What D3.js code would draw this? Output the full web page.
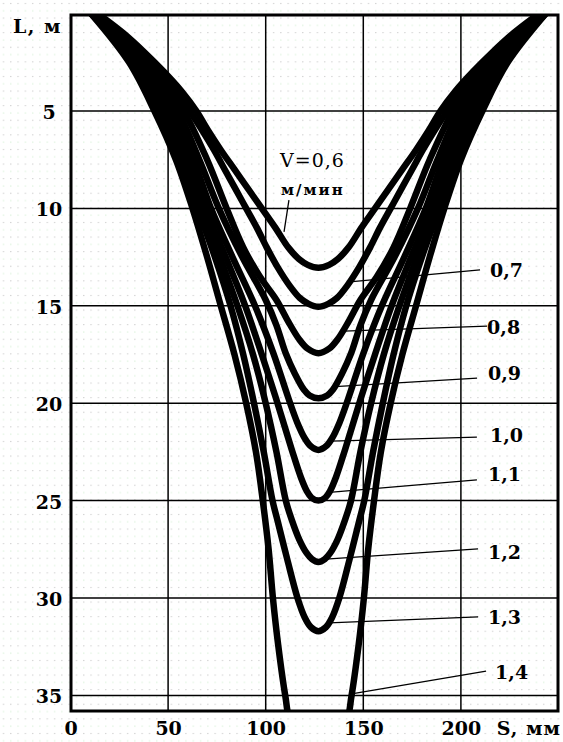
<!DOCTYPE html>
<html><head><meta charset="utf-8">
<script src="https://cdn.jsdelivr.net/npm/d3@7"></script>
<style>html,body{margin:0;padding:0;background:#fff;} svg{display:block;}</style>
</head><body><svg id="chart" width="563" height="742"></svg>
<script>
// ---- data (S in mm, L in m) ----
const xTickValues = [0, 50, 100, 150, 200];
const yTickValues = [5, 10, 15, 20, 25, 30, 35];
const centerS = 127;
// [L, half-width of the profile] pairs for each speed
const curve06 = [[0,113],[1,100],[2,89],[3,79],[4,70],[5,62.5],[6,56.5],[7,50],[8,43],[9,36],[10,29],[11,22],[12,15.5],[12.6,10],[12.9,5.5],[13.05,0]];
const curve07 = [[0,114],[1,101],[2,90],[3,81],[4,73],[5,66],[6,59.5],[7,53.5],[8,48],[9,42.5],[10,37],[11,31.5],[12,26.5],[13,21],[14,14.5],[14.6,9.5],[14.9,5],[15.05,0]];
const curve08 = [[0,114],[2.5,86],[5,69],[7.5,57],[10,47],[12,38.5],[13.5,30],[14.7,21.5],[15.8,15.5],[16.7,10],[17.2,5.5],[17.43,0]];
const curve09 = [[0,115],[2.5,88],[5,72],[7.5,61],[10,51],[12.5,39],[14.7,27],[16,21.5],[17.45,16.7],[18.5,12],[19.3,7.5],[19.6,4.5],[19.75,0]];
const curve10 = [[0,115],[2.5,90],[5,75],[7.5,64],[10,55],[12.5,44],[15,32.5],[17.45,23],[19.76,15.3],[21,10.8],[21.8,7],[22.2,4],[22.4,0]];
const curve11 = [[0,116],[2.5,92],[5,78],[7.5,67],[10,58],[12.5,47.5],[15,37.5],[17.5,29],[19.76,21.7],[22.4,13.6],[23.8,9],[24.5,6],[24.85,3.5],[25.0,0]];
const curve12 = [[0,116],[2.5,93],[5,80],[7.5,69],[10,60],[12.5,50.5],[15,41.5],[17.5,33.5],[20,27],[22.5,21.5],[25,16.7],[26,13.6],[27,9.8],[27.7,6],[28.0,3.3],[28.15,0]];
const curve13 = [[0,116.5],[2.5,95],[5,82],[7.5,71],[10,62],[12.5,53],[15,45],[17.5,38.5],[20,33],[22.5,28],[25,23.5],[26,21],[28,16],[30,10.7],[31,7],[31.5,3.8],[31.7,0]];
const curve14 = [[0,116.5],[2.5,97],[5,84],[7.5,73],[10,64.5],[12.5,57],[15,50],[17.5,43],[20,37],[22.5,32],[25,28.5],[27.5,25.5],[30,23.3],[32.5,20.5],[35,17],[36.5,14],[38.6,0]];
const curves = [curve06, curve07, curve08, curve09, curve10, curve11, curve12, curve13, curve14];

// label names and leader lines: [S start, L start, S end, L end]
const speedLabels = ["0,7","0,8","0,9","1,0","1,1","1,2","1,3","1,4"];
const leaderLines = [[141.6,13.78,209.8,13.16],[140,16.3,213.4,16.04],[135.5,19.15,208.3,18.71],[133.5,21.95,208.2,21.74],[132.6,24.58,208.2,23.94],[130.8,28.0,208.8,27.48],[132.5,31.28,208.8,30.97],[145.5,34.9,212.9,33.75]];
const labelPos = [[214.9,13.52],[213.4,16.45],[213.9,18.82],[214.9,21.99],[213.9,24.0],[213.9,27.99],[213.9,31.33],[217.5,34.16]];
const v06Leader = [111.9, 9.57, 109.4, 11.2];

// ---- drawing ----
const svg = d3.select("#chart");
const x = d3.scaleLinear().domain([0, 250]).range([70.5, 558.5]);
const y = d3.scaleLinear().domain([0, 35.8]).range([13.6, 711]);
const P = {left: 71, right: 558, top: 15, bottom: 711};
const FONT = "'DejaVu Serif', 'Liberation Serif', serif";
const FS = 19;

const defs = svg.append("defs");
const pat = defs.append("pattern").attr("id", "dots").attr("patternUnits", "userSpaceOnUse")
  .attr("width", 7.3).attr("height", 14.6);
pat.append("rect").attr("x", 3).attr("y", 3).attr("width", 1).attr("height", 1).attr("fill", "#b9b9b9");
pat.append("rect").attr("x", 3).attr("y", 10.3).attr("width", 1).attr("height", 1).attr("fill", "#c6e9c6");
defs.append("clipPath").attr("id", "plotClip").append("rect")
  .attr("x", P.left).attr("y", P.top).attr("width", P.right - P.left).attr("height", P.bottom - P.top);

svg.append("rect").attr("width", 563).attr("height", 742).attr("fill", "#fff");
svg.append("rect").attr("width", 563).attr("height", 742).attr("fill", "url(#dots)");

// grid
const grid = svg.append("g").attr("stroke", "#000").attr("stroke-width", 1.5);
grid.selectAll("line.v").data(xTickValues.filter(d => d > 0)).join("line").attr("class", "v")
  .attr("x1", d => x(d)).attr("x2", d => x(d)).attr("y1", P.top).attr("y2", P.bottom);
grid.selectAll("line.h").data(yTickValues).join("line").attr("class", "h")
  .attr("y1", d => y(d)).attr("y2", d => y(d)).attr("x1", P.left).attr("x2", P.right);

// curves
const line = d3.line().x(d => x(d[0])).y(d => y(d[1])).curve(d3.curveCatmullRom.alpha(0.5));
function profilePoints(prof) {
  const left = prof.filter(p => p[1] > 0).map(p => [centerS - p[1], p[0]]);
  const bottom = prof.filter(p => p[1] === 0).map(p => [centerS, p[0]]);
  const right = prof.filter(p => p[1] > 0).map(p => [centerS + p[1], p[0]]).reverse();
  return left.concat(bottom, right);
}
svg.append("g").attr("clip-path", "url(#plotClip)")
  .selectAll("path").data(curves).join("path")
  .attr("d", d => line(profilePoints(d)))
  .attr("fill", "none").attr("stroke", "#000").attr("stroke-width", 6.5)
  .attr("stroke-linejoin", "round").attr("stroke-linecap", "round");

// leaders
const lead = svg.append("g").attr("stroke", "#000").attr("stroke-width", 1.3);
lead.selectAll("line").data(leaderLines.concat([v06Leader])).join("line")
  .attr("x1", d => x(d[0])).attr("y1", d => y(d[1])).attr("x2", d => x(d[2])).attr("y2", d => y(d[3]));

// frame
svg.append("rect").attr("x", P.left).attr("y", P.top).attr("width", P.right - P.left).attr("height", P.bottom - P.top)
  .attr("fill", "none").attr("stroke", "#000").attr("stroke-width", 3);

// axes
const xAxis = svg.append("g").attr("transform", `translate(0,${P.bottom})`)
  .call(d3.axisBottom(x).tickValues(xTickValues).tickSize(0).tickFormat(d3.format("d")));
xAxis.select(".domain").remove();
xAxis.attr("font-family", FONT).attr("font-size", FS).attr("font-weight", "bold");
xAxis.selectAll("text").attr("y", 24).attr("dy", 0).attr("fill", "#000");

const yAxis = svg.append("g").attr("transform", "translate(49,0)")
  .call(d3.axisLeft(y).tickValues(yTickValues).tickSize(0).tickFormat(d3.format("d")));
yAxis.select(".domain").remove();
yAxis.attr("font-family", FONT).attr("font-size", FS).attr("font-weight", "bold").attr("text-anchor", "middle");
yAxis.selectAll("text").attr("x", 0).attr("y", 7.5).attr("dy", 0).attr("fill", "#000");

// texts
const txt = svg.append("g").attr("font-family", FONT).attr("font-size", FS).attr("font-weight", "bold").attr("fill", "#000");
txt.append("text").attr("x", 13).attr("y", 33).attr("letter-spacing", 1.5).text("L, м");
txt.append("text").attr("x", 561).attr("y", 735).attr("text-anchor", "end").attr("letter-spacing", 1).text("S, мм");
txt.append("text").attr("x", 280).attr("y", 167).attr("font-weight", "normal").attr("letter-spacing", 1).text("V=0,6");
txt.append("text").attr("x", 281).attr("y", 195).attr("font-size", 15).attr("letter-spacing", 2).text("м/мин");
txt.selectAll("text.lab").data(speedLabels).join("text").attr("class", "lab")
  .attr("x", (d, i) => x(labelPos[i][0])).attr("y", (d, i) => y(labelPos[i][1])).text(d => d);
</script></body></html>
